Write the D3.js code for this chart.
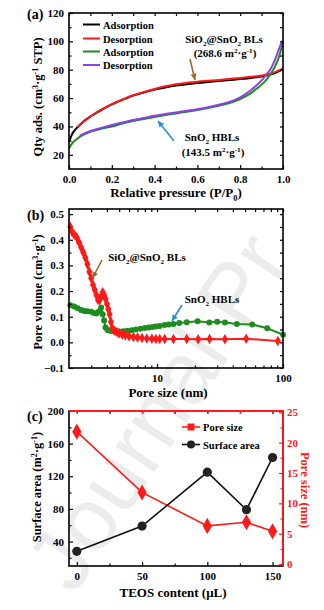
<!DOCTYPE html>
<html><head><meta charset="utf-8">
<script src="https://cdn.jsdelivr.net/npm/d3@7"></script>
<style>html,body{margin:0;padding:0;background:#fff;}svg{display:block;}</style>
</head><body>
<svg id="c" width="324" height="610"></svg>
<script>
// ---------- DATA ----------
// (a) N2 isotherms
const blAdsP = [0,0.01,0.02,0.04,0.06,0.08,0.1,0.15,0.2,0.25,0.3,0.35,0.4,0.45,0.5,0.55,0.6,0.65,0.7,0.75,0.8,0.85,0.9,0.95,0.98,1.0];
const blAdsQ = [29,33,36,39.5,42.5,45,47,51.5,55.5,58.8,61.8,64,66,67.5,68.8,69.8,70.6,71.3,72,72.7,73.4,74.2,75.3,77,78.8,80.5];
const blDesP = [1.0,0.98,0.95,0.9,0.85,0.8,0.75,0.7,0.65,0.6,0.55,0.5,0.45,0.4,0.35,0.3,0.25,0.2,0.15,0.1,0.07,0.04];
const blDesQ = [81,79.5,77.5,76,75,74.2,73.5,72.8,72.2,71.6,70.8,69.8,68.3,66.4,64.3,62,59,55.8,51.8,47,43.5,39.5];
const hbAdsP = [0,0.01,0.02,0.04,0.06,0.08,0.1,0.15,0.2,0.25,0.3,0.35,0.4,0.45,0.5,0.55,0.6,0.65,0.7,0.75,0.8,0.85,0.88,0.9,0.92,0.94,0.96,0.98,1.0];
const hbAdsQ = [24.5,27,29,31.5,33.5,35,36.2,38.3,40,42,43.8,45.3,46.7,48,49.2,50.4,51.6,53,54.6,56.5,59.3,63.5,67,69.5,72.5,76.5,81.5,88.5,100];
const hbDesP = [1.0,0.99,0.98,0.96,0.94,0.92,0.9,0.88,0.85,0.8,0.75,0.7,0.65,0.6,0.55,0.5,0.45,0.4,0.35,0.3,0.25,0.2,0.15,0.1,0.07,0.05];
const hbDesQ = [101,98,94,86,80,76,72.5,69.5,65.5,60.5,57.3,55.3,53.6,52.2,51,49.9,48.8,47.5,46,44.5,42.8,41,39,36.8,35,33.5];
const legendA = ["Adsorption","Desorption","Adsorption","Desorption"];

// (b) pore size distributions
const blPoreD = [2.05,2.12,2.2,2.3,2.4,2.5,2.6,2.7,2.8,2.9,3.0,3.1,3.2,3.3,3.4,3.5,3.6,3.7,3.8,3.9,4.0,4.1,4.2,4.3,4.4,4.6,4.8,5.0,5.3,5.6,6.0,6.5,7.0,7.6,8.3,9.1,9.8,10.5,11.5,13.5,17.2,21.2,26.1,34.6,51,91];
const blPoreV = [0.45,0.43,0.42,0.41,0.39,0.37,0.35,0.33,0.305,0.275,0.25,0.225,0.205,0.185,0.165,0.165,0.18,0.195,0.185,0.17,0.15,0.13,0.11,0.08,0.055,0.045,0.04,0.035,0.031,0.028,0.024,0.021,0.019,0.017,0.015,0.014,0.013,0.013,0.013,0.013,0.013,0.012,0.013,0.012,0.014,0.005];
const hbPoreD = [2.05,2.2,2.35,2.5,2.65,2.8,3.0,3.15,3.3,3.45,3.6,3.7,3.8,3.9,4.05,4.3,4.6,5.0,5.4,5.8,6.3,6.8,7.4,8.0,8.6,9.2,9.8,10.5,11.5,12.4,13.5,15,17.2,21,26,30,34.6,43,57,75,100];
const hbPoreV = [0.145,0.14,0.133,0.126,0.122,0.121,0.119,0.114,0.113,0.12,0.136,0.11,0.085,0.058,0.048,0.044,0.042,0.042,0.043,0.045,0.047,0.05,0.053,0.056,0.058,0.06,0.062,0.064,0.068,0.07,0.072,0.075,0.078,0.082,0.077,0.08,0.077,0.072,0.07,0.055,0.03];

// (c) TEOS series
const teos = [0,50,100,130,150];
const surfaceArea = [28,59,125,79,143];
const poreSize = [21.8,11.8,6.3,6.9,5.4];
const ticksAx = [0,0.2,0.4,0.6,0.8,1.0];
const ticksAy = [20,40,60,80,100,120];
const ticksBy = [-0.1,0,0.1,0.2,0.3,0.4,0.5];
const ticksBx = [10,100];
const ticksCx = [0,50,100,150];
const ticksCyL = [40,80,120,160,200];
const ticksCyR = [0,5,10,15,20,25];
const watermark = "Journal Pr";

// ---------- SETUP ----------
const svg = d3.select("#c");
const FONT = "'Liberation Serif','Times New Roman',serif";
const RED = "#ff1a1a", GREEN = "#1f8c1f", PURPLE = "#8f3fe6", BROWN = "#a5652a", BLUE = "#2b8fd6";

// watermark
svg.append("text").attr("transform","translate(74,596) rotate(-57)")
  .attr("font-family","'Liberation Sans',Arial,sans-serif").attr("font-size",88)
  .attr("fill","#ececec").text(watermark);

const X0 = 69, X1 = 283;

function txt(g, x, y, parts, opts) {
  const t = g.append("text").attr("x",x).attr("y",y)
    .attr("font-family",FONT).attr("font-weight","bold")
    .attr("font-size",opts.size).attr("fill",opts.fill||"#000")
    .attr("text-anchor",opts.anchor||"start");
  if (opts.transform) t.attr("transform",opts.transform);
  if (opts.dy) t.attr("dy",opts.dy);
  const s = opts.size;
  let shift = 0;
  parts.forEach(p => {
    const [str,type] = Array.isArray(p) ? p : [p,"n"];
    const ts = t.append("tspan").text(str);
    let target = type==="sub" ? s*0.3 : type==="sup" ? -s*0.38 : 0;
    const d = target - shift;
    if (d !== 0) ts.attr("dy", d);
    if (type!=="n") ts.attr("font-size", s*0.65);
    shift = target;
  });
  return t;
}

function axes(g, x, y, o) {
  const [ya, yb] = y.range();
  g.append("rect").attr("x",X0).attr("y",yb).attr("width",X1-X0).attr("height",ya-yb)
    .attr("fill","none").attr("stroke","#000").attr("stroke-width",1.6);
  const tickStyle = sel => sel.selectAll("line").attr("stroke","#000").attr("stroke-width",1.2);
  const bx = g.append("g").attr("transform",`translate(0,${ya})`)
    .call(d3.axisBottom(x).tickValues(o.xt).tickFormat(o.xf).tickSize(-4).tickPadding(6));
  bx.select(".domain").remove(); tickStyle(bx);
  bx.selectAll("text").attr("font-family",FONT).attr("font-weight","bold").attr("font-size",11).attr("fill","#000");
  if (o.xm) {
    const m = g.append("g").attr("transform",`translate(0,${ya})`).call(d3.axisBottom(x).tickValues(o.xm).tickFormat("").tickSize(-2.5));
    m.select(".domain").remove(); tickStyle(m);
  }
  const top = g.append("g").attr("transform",`translate(0,${yb})`)
    .call(d3.axisTop(x).tickValues(o.xt.concat(o.xm||[])).tickFormat("").tickSize(-3));
  top.select(".domain").remove(); tickStyle(top);
  const ly = g.append("g").attr("transform",`translate(${X0},0)`)
    .call(d3.axisLeft(y).tickValues(o.yt).tickFormat(o.yf).tickSize(-4).tickPadding(5));
  ly.select(".domain").remove(); tickStyle(ly);
  ly.selectAll("text").attr("font-family",FONT).attr("font-weight","bold").attr("font-size",11).attr("fill","#000");
  if (o.ym) {
    const m = g.append("g").attr("transform",`translate(${X0},0)`).call(d3.axisLeft(y).tickValues(o.ym).tickFormat("").tickSize(-2.5));
    m.select(".domain").remove(); tickStyle(m);
  }
  if (o.right !== false) {
    const r = g.append("g").attr("transform",`translate(${X1},0)`)
      .call(d3.axisRight(y).tickValues(o.yt.concat(o.ym||[])).tickFormat("").tickSize(-3));
    r.select(".domain").remove(); tickStyle(r);
  }
}

function arrow(g, x1, y1, x2, y2, color) {
  g.append("line").attr("x1",x1).attr("y1",y1).attr("x2",x2).attr("y2",y2)
    .attr("stroke",color).attr("stroke-width",1.6);
  const a = Math.atan2(y2-y1, x2-x1), L = 6, W = 3;
  const p = [[x2,y2],[x2-L*Math.cos(a)+W*Math.sin(a), y2-L*Math.sin(a)-W*Math.cos(a)],
             [x2-L*Math.cos(a)-W*Math.sin(a), y2-L*Math.sin(a)+W*Math.cos(a)]];
  g.append("path").attr("d","M"+p.join("L")+"Z").attr("fill",color);
}

// ---------- PANEL A ----------
{
  const g = svg.append("g");
  const x = d3.scaleLinear().domain([0,1]).range([X0,X1]);
  const y = d3.scaleLinear().domain([10,120]).range([169,13]);
  const line = d3.line().x(d=>x(d[0])).y(d=>y(d[1])).curve(d3.curveCatmullRom.alpha(0.5));
  const series = [
    [blAdsP, blAdsQ, "#000"], [blDesP, blDesQ, RED],
    [hbAdsP, hbAdsQ, GREEN], [hbDesP, hbDesQ, PURPLE]];
  series.forEach(([p,q,c]) => {
    g.append("path").datum(p.map((v,i)=>[v,q[i]])).attr("d",line)
      .attr("fill","none").attr("stroke",c).attr("stroke-width",2);
  });
  axes(g, x, y, {xt:ticksAx, xf:d3.format(".1f"), xm:[0.1,0.3,0.5,0.7,0.9], yt:ticksAy, yf:d3.format("d"), ym:[30,50,70,90,110]});
  const legY = [24.5,38.5,51.5,65];
  legendA.forEach((s,i) => {
    g.append("line").attr("x1",83).attr("x2",100).attr("y1",legY[i]).attr("y2",legY[i])
      .attr("stroke",series[i][2]).attr("stroke-width",2);
    txt(g, 103, legY[i]+4, [s], {size:10.5});
  });
  txt(g, 224, 43, ["SiO",["2","sub"],"@SnO",["2","sub"]," BLs"], {size:11, anchor:"middle"});
  txt(g, 225, 57, ["(268.6 m",["2","sup"],"·g",["-1","sup"],")"], {size:11, anchor:"middle"});
  arrow(g, 190, 59, 195, 80, BROWN);
  txt(g, 212, 141, ["SnO",["2","sub"]," HBLs"], {size:11, anchor:"middle"});
  txt(g, 213, 156, ["(143.5 m",["2","sup"],"·g",["-1","sup"],")"], {size:11, anchor:"middle"});
  arrow(g, 174, 141, 158, 121, BLUE);
  txt(g, 176, 197, ["Relative pressure (P/P",["0","sub"],")"], {size:13, anchor:"middle"});
  txt(g, 0, 0, ["Qty ads. (cm",["3","sup"],"·g",["-1","sup"]," STP)"], {size:12.5, anchor:"middle", transform:"translate(38,97) rotate(-90)", dy:"0.35em"});
  txt(g, 27, 19, ["(a)"], {size:14});
}

// ---------- PANEL B ----------
{
  const g = svg.append("g");
  const x = d3.scaleLog().domain([2,100]).range([X0,X1]);
  const y = d3.scaleLinear().domain([-0.1,0.52]).range([368,209]);
  const line = d3.line().x(d=>x(d[0])).y(d=>y(d[1]));
  const red = blPoreD.map((d,i)=>[d,blPoreV[i]]);
  const grn = hbPoreD.map((d,i)=>[d,hbPoreV[i]]);
  g.append("path").datum(grn).attr("d",line).attr("fill","none").attr("stroke",GREEN).attr("stroke-width",2);
  g.selectAll(".gp").data(grn).join("circle").attr("cx",d=>x(d[0])).attr("cy",d=>y(d[1])).attr("r",3).attr("fill",GREEN);
  g.append("path").datum(red).attr("d",line).attr("fill","none").attr("stroke",RED).attr("stroke-width",2);
  g.selectAll(".rp").data(red).join("path").attr("transform",d=>`translate(${x(d[0])},${y(d[1])})`)
    .attr("d",d3.symbol(d3.symbolDiamond,32)).attr("fill",RED);
  axes(g, x, y, {xt:ticksBx, xf:d3.format("d"), xm:[3,4,5,6,7,8,9,20,30,40,50,60,70,80,90], yt:ticksBy, yf:d3.format(".1f"), ym:[-0.05,0.05,0.15,0.25,0.35,0.45]});
  txt(g, 147, 261, ["SiO",["2","sub"],"@SnO",["2","sub"]," BLs"], {size:11, anchor:"middle"});
  arrow(g, 102, 260, 92.5, 278, BROWN);
  txt(g, 212, 303, ["SnO",["2","sub"]," HBLs"], {size:11, anchor:"middle"});
  arrow(g, 182, 305, 172, 321, BLUE);
  txt(g, 168, 397, ["Pore size (nm)"], {size:13, anchor:"middle"});
  txt(g, 0, 0, ["Pore volume (cm",["3","sup"],"·g",["-1","sup"],")"], {size:12.5, anchor:"middle", transform:"translate(38,292) rotate(-90)", dy:"0.35em"});
  txt(g, 27, 220, ["(b)"], {size:14});
}

// ---------- PANEL C ----------
{
  const g = svg.append("g");
  const x = d3.scaleLinear().domain([-6,158]).range([X0,X1]);
  const y = d3.scaleLinear().domain([10,200]).range([566,411]);
  const y2 = d3.scaleLinear().domain([-0.3,25.2]).range([566,411]);
  axes(g, x, y, {xt:ticksCx, xf:d3.format("d"), xm:[25,75,125], yt:ticksCyL, yf:d3.format("d"), ym:[20,60,100,140,180], right:false});
  g.append("line").attr("x1",X0).attr("x2",X1+1).attr("y1",411).attr("y2",411).attr("stroke",RED).attr("stroke-width",1.8);
  const tp = g.append("g").attr("transform","translate(0,411)").call(d3.axisTop(x).tickValues([0,25,50,75,100,125,150]).tickFormat("").tickSize(-3));
  tp.select(".domain").remove(); tp.selectAll("line").attr("stroke",RED).attr("stroke-width",1.2);
  g.append("line").attr("x1",X1).attr("x2",X1).attr("y1",411).attr("y2",566).attr("stroke",RED).attr("stroke-width",1.8);
  const ra = g.append("g").attr("transform",`translate(${X1},0)`)
    .call(d3.axisRight(y2).tickValues(ticksCyR).tickFormat(d3.format("d")).tickSize(-4).tickPadding(4));
  ra.select(".domain").remove(); ra.selectAll("line").attr("stroke",RED).attr("stroke-width",1.2);
  ra.selectAll("text").attr("font-family",FONT).attr("font-weight","bold").attr("font-size",11).attr("fill",RED);
  const rm = g.append("g").attr("transform",`translate(${X1},0)`)
    .call(d3.axisRight(y2).tickValues([2.5,7.5,12.5,17.5,22.5]).tickFormat("").tickSize(-2.5));
  rm.select(".domain").remove(); rm.selectAll("line").attr("stroke",RED).attr("stroke-width",1.2);

  const ps = teos.map((t,i)=>[t,poreSize[i]]);
  const sa = teos.map((t,i)=>[t,surfaceArea[i]]);
  g.append("path").datum(ps).attr("d",d3.line().x(d=>x(d[0])).y(d=>y2(d[1])))
    .attr("fill","none").attr("stroke",RED).attr("stroke-width",1.6);
  g.selectAll(".pd").data(ps).join("path").attr("transform",d=>`translate(${x(d[0])},${y2(d[1])})`)
    .attr("d",d3.symbol(d3.symbolDiamond,75)).attr("fill",RED);
  g.append("path").datum(sa).attr("d",d3.line().x(d=>x(d[0])).y(d=>y(d[1])))
    .attr("fill","none").attr("stroke","#111").attr("stroke-width",1.6);
  g.selectAll(".sc").data(sa).join("circle").attr("cx",d=>x(d[0])).attr("cy",d=>y(d[1])).attr("r",4.6).attr("fill","#222");
  g.append("line").attr("x1",182).attr("x2",200).attr("y1",427).attr("y2",427).attr("stroke",RED).attr("stroke-width",1.6);
  g.append("rect").attr("x",187.5).attr("y",423.5).attr("width",7).attr("height",7).attr("fill",RED);
  txt(g, 203, 431, ["Pore size"], {size:10.5});
  g.append("line").attr("x1",182).attr("x2",200).attr("y1",444.5).attr("y2",444.5).attr("stroke","#111").attr("stroke-width",1.6);
  g.append("circle").attr("cx",191).attr("cy",444.5).attr("r",4).attr("fill","#222");
  txt(g, 203, 448.5, ["Surface area"], {size:10.5});
  txt(g, 173, 597, ["TEOS content (μL)"], {size:13, anchor:"middle"});
  txt(g, 0, 0, ["Surface area (m",["2","sup"],"·g",["-1","sup"],")"], {size:12.5, anchor:"middle", transform:"translate(37,487) rotate(-90)", dy:"0.35em"});
  txt(g, 0, 0, ["Pore size (nm)"], {size:12.5, anchor:"middle", fill:RED, transform:"translate(305,490) rotate(90)", dy:"0.35em"});
  txt(g, 27, 421, ["(c)"], {size:14});
}
</script>
</body></html>
